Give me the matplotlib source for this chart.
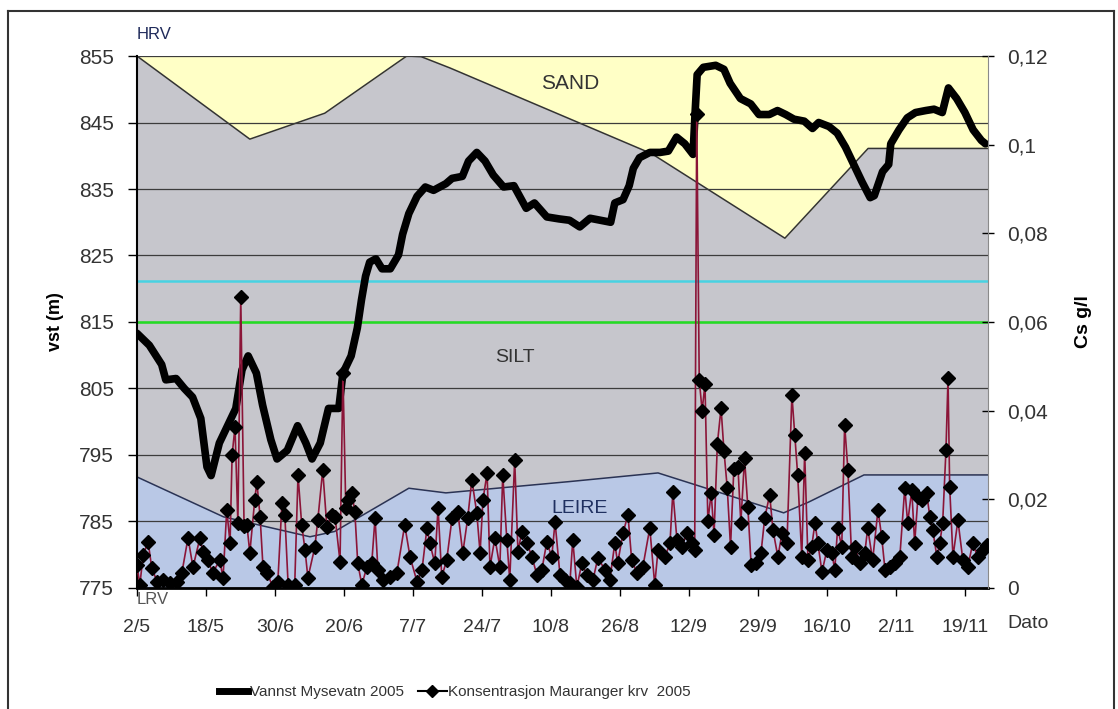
import matplotlib
matplotlib.use("Agg")
import matplotlib.pyplot as plt
from matplotlib.lines import Line2D
from matplotlib import font_manager
import numpy as np

# x axis in days counted from 2/5
tick_labels = ['2/5', '18/5', '30/6', '20/6', '7/7', '24/7', '10/8', '26/8',
               '12/9', '29/9', '16/10', '2/11', '19/11']
tick_step = 16.75
left_ticks = [775, 785, 795, 805, 815, 825, 835, 845, 855]
right_ticks = [0, 0.02, 0.04, 0.06, 0.08, 0.10, 0.12]
right_tick_labels = ['0', '0,02', '0,04', '0,06', '0,08', '0,1', '0,12']

# sediment zone boundaries (m)
leire_day = [0, 21, 42, 48, 66, 75, 105, 126.5, 157, 163, 176.5, 206.6]
leire_top = [791.7, 785.7, 782.7, 783.5, 790, 789.3, 791, 792.3, 786.3, 787.9, 792, 792]
sand_day = [0, 27.4, 45.6, 65.5, 69, 76, 125, 157.3, 177.5, 206.6]
sand_bottom = [855, 842.5, 846.4, 855, 854.9, 853.2, 840.3, 827.6, 841.1, 841.1]
cyan_level = 821.2
green_level = 815

# Vannst Mysevatn 2005 (m)
water_day = [0, 3, 6, 7, 9.5, 11.5, 13.5, 15.5, 17, 18, 20, 22, 24, 25.5, 27, 29, 30.5,
             32.5, 34, 36.5, 39, 41, 42.5, 44.5, 46.5, 49, 50, 52, 53.5, 54.5, 55.5, 56.5,
             58, 59.5, 61.5, 63.5, 64.5, 66, 68, 70, 72, 75, 76.5, 79, 80.5, 82.5, 84.5,
             86.5, 89, 91.5, 94.5, 96.5, 99.5, 102.5, 105, 107.5, 110, 112.5, 115, 116,
             118, 119.5, 120.5, 122, 124.5, 127, 129, 131, 133, 135, 135.5, 136, 137.5,
             140.5, 142.5, 144, 146.5, 149, 151, 153.5, 155.5, 157.5, 159.5, 162, 164,
             165.5, 168, 170, 172, 174, 176, 178, 179, 181, 182.5, 183, 185, 187, 189,
             191.5, 193.5, 195.5, 197, 199, 201, 203, 205, 206]
water_level = [813.3, 811.5, 808.6, 806.3, 806.5, 805, 803.7, 800.5, 793.2, 791.9, 796.8,
               799.4, 802, 807.8, 809.9, 807.3, 802.5, 797.3, 794.4, 795.7, 799.4, 796.8,
               794.4, 796.8, 802, 802, 807.3, 809.9, 814.1, 818.3, 821.9, 824, 824.5, 823,
               823, 825.1, 828.2, 831.3, 833.9, 835.3, 834.8, 835.8, 836.6, 836.9, 839.2,
               840.5, 839.2, 837.1, 835.3, 835.5, 832.1, 832.9, 830.8, 830.5, 830.3, 829.3,
               830.6, 830.3, 830, 832.9, 833.4, 835.5, 838.1, 839.7, 840.5, 840.5, 840.7,
               842.8, 841.8, 840.2, 846.5, 852.2, 853.3, 853.6, 853, 850.9, 848.6, 847.8,
               846.2, 846.2, 846.8, 846.2, 845.5, 845.2, 844.1, 845, 844.4, 843.4, 841.3,
               838.7, 836.1, 833.7, 834, 837.6, 838.7, 841.8, 843.9, 845.7, 846.5, 846.8,
               847, 846.5, 850.2, 848.6, 846.5, 843.9, 842.3, 841.8]

# Konsentrasjon Mauranger krv 2005 (g/l)
conc_day = [0.0, 0.7, 1.5, 2.7, 3.6, 4.9, 6.3, 8.0, 9.7, 10.9, 12.4, 13.6, 15.3, 16.0,
            17.2, 18.4, 20.1, 20.9, 21.8, 22.6, 23.1, 23.8, 24.5, 25.2, 26.0, 26.7, 27.4,
            28.6, 29.1, 29.9, 30.6, 31.6, 33.0, 34.2, 35.2, 35.9, 36.7, 38.3, 39.1, 40.0,
            40.8, 41.5, 43.2, 43.9, 45.1, 46.1, 47.3, 48.1, 49.3, 50.0, 50.7, 51.2, 52.2,
            52.9, 53.6, 54.6, 55.8, 57.0, 57.8, 58.5, 59.7, 61.4, 63.1, 65.0, 66.3, 68.0,
            69.2, 70.4, 71.1, 72.3, 73.1, 74.0, 75.2, 76.5, 77.9, 79.1, 80.3, 81.3, 82.5,
            83.3, 84.0, 85.0, 85.7, 86.9, 88.1, 88.8, 89.8, 90.5, 91.7, 92.5, 93.4, 94.7,
            95.9, 97.1, 98.3, 99.5, 100.7, 101.5, 102.7, 103.9, 105.1, 105.8, 106.8, 108.0,
            109.2, 110.7, 111.9, 113.6, 114.8, 116.0, 116.7, 118.0, 119.2, 120.1, 121.4,
            122.8, 124.5, 125.7, 126.5, 128.2, 129.4, 130.1, 131.1, 132.3, 133.5, 134.7,
            135.4, 135.9, 136.5, 137.2, 137.9, 138.6, 139.4, 140.1, 140.9, 141.8, 142.5,
            143.3, 144.1, 144.9, 145.9, 146.6, 147.5, 148.3, 149.1, 150.3, 151.5, 152.4,
            153.6, 154.4, 155.6, 156.6, 157.8, 159.0, 159.7, 160.4, 161.4, 162.1, 162.9,
            163.8, 164.6, 165.3, 166.3, 167.5, 168.7, 169.4, 170.1, 171.1, 171.8, 172.6,
            173.5, 174.3, 175.5, 176.7, 177.4, 178.6, 179.9, 180.8, 181.6, 182.8, 184.0,
            185.2, 186.4, 187.1, 188.1, 188.8, 189.6, 190.5, 191.7, 192.5, 193.2, 194.2,
            194.9, 195.6, 196.4, 196.9, 197.3, 198.1, 199.3, 200.5, 201.7, 202.9, 204.1,
            205.3, 206.3]
conc_val = [.0052, .0007, .0074, .0104, .0045, .0014, .0018, .0011, .0014, .0034, .0113,
            .0047, .0113, .0081, .0063, .0034, .0063, .0023, .0176, .0101, .030, .0363,
            .0147, .0657, .0140, .0142, .0079, .0199, .0239, .016, .0047, .0034, .0002,
            .0014, .0192, .0165, .0007, .0007, .0255, .0142, .0086, .0023, .0093, .0153,
            .0266, .0138, .0165, .016, .0059, .0485, .018, .0199, .0214, .0171, .0056,
            .0007, .0047, .0056, .0158, .0041, .0018, .0025, .0034, .0142, .007, .0014,
            .0041, .0135, .0101, .0056, .018, .0025, .0063, .0158, .0171, .0079, .0158,
            .0244, .0169, .0079, .0199, .0259, .0047, .0113, .0047, .0255, .0108, .0018,
            .0289, .0081, .0126, .0101, .007, .0029, .0041, .0104, .007, .0149, .0029,
            .0018, .0011, .0108, .0002, .0056, .0029, .0018, .0068, .0041, .0018, .0101,
            .0056, .0124, .0165, .0063, .0034, .0047, .0135, .0007, .0086, .007, .0101,
            .0217, .0108, .0093, .0124, .0101, .0086, .107, .047, .040, .046, .015, .0214,
            .012, .0325, .0406, .031, .0226, .0093, .0268, .0273, .0147, .0293, .0183,
            .0052, .0056, .0079, .0158, .021, .0131, .007, .0124, .0101, .0435, .0345,
            .0255, .007, .0305, .0063, .0093, .0147, .0101, .0036, .0086, .0079, .0041,
            .0135, .0093, .0368, .0266, .007, .0093, .0056, .0079, .0135, .0063, .0176,
            .0115, .0041, .0047, .0056, .007, .0226, .0147, .0221, .0101, .0205, .0199,
            .0214, .016, .0131, .007, .0101, .0147, .0311, .0474, .0228, .007, .0153,
            .0063, .0047, .0101, .007, .0086, .0097]

installed = {f.name for f in font_manager.fontManager.ttflist}
plt.rcParams['font.family'] = ['Liberation Sans', 'DejaVu Sans']
narrow = 'Liberation Sans Narrow' in installed

fig = plt.figure(figsize=(11.18, 7.09), dpi=100)
ax = fig.add_axes([0.1225, 0.1707, 0.7612, 0.7503])

# zones: silt is the background, leire and sand on top
ax.set_facecolor('#c6c6cc')
ax.fill_between(leire_day, 775, leire_top, color='#b9c8e6', lw=0, zorder=1)
ax.fill_between(sand_day, sand_bottom, 855, color='#ffffc6', lw=0, zorder=1)
ax.plot(leire_day, leire_top, color='#2a3355', lw=1.1, zorder=1.2)
ax.plot(sand_day, sand_bottom, color='#333333', lw=1.1, zorder=1.2)

ax.axhline(cyan_level, color='#48d2e2', lw=1.8, zorder=1.8)
ax.axhline(green_level, color='#22dd22', lw=1.8, zorder=1.8)

ax.plot(water_day, water_level, color='black', lw=5.5, solid_joinstyle='round',
        solid_capstyle='round', zorder=3)

ax.set_xlim(0, 206.6)
ax.set_ylim(775, 855)
ax.set_yticks(left_ticks)
ax.yaxis.grid(True, color='#3c3c3c', lw=0.9)
ax.set_xticks(np.arange(len(tick_labels)) * tick_step)
ax.set_xticklabels(tick_labels)
ax.tick_params(axis='x', direction='out', length=6, width=1, pad=16,
               labelsize=14, labelcolor='#333333')
ax.tick_params(axis='y', direction='out', length=6.5, width=1, pad=10,
               labelsize=15, labelcolor='#333333')
for side in ['top', 'right']:
    ax.spines[side].set_visible(False)
ax.spines['left'].set_linewidth(1.5)
ax.spines['bottom'].set_linewidth(2)
ax.set_ylabel('vst (m)', fontsize=13, fontweight='bold')
ax.yaxis.set_label_coords(-0.086, 0.5)

ax.text(105.1, 850.9, 'SAND', fontsize=15, color='#333333', ha='center', va='center')
ax.text(91.7, 809.7, 'SILT', fontsize=14, color='#333333', ha='center', va='center')
ax.text(107.5, 787.0, 'LEIRE', fontsize=14, color='#1f3060', ha='center', va='center')
ax.text(0, 1.041, 'HRV', transform=ax.transAxes, fontsize=12, color='#1f2a5a',
        ha='left', va='center')
ax.text(0, -0.0226, 'LRV', transform=ax.transAxes, fontsize=12, color='#555555',
        ha='left', va='center')
ax.text(1.0223, -0.0677, 'Dato', transform=ax.transAxes, fontsize=14, color='#333333',
        ha='left', va='center')

ax2 = ax.twinx()
ax2.plot(conc_day, conc_val, color='#8b1538', lw=1.2, marker='D', ms=7,
         mfc='black', mec='black', zorder=4)
ax2.set_ylim(0, 0.12)
ax2.set_yticks(right_ticks)
ax2.set_yticklabels(right_tick_labels)
ax2.tick_params(axis='y', direction='inout', length=9, width=1, pad=9,
                labelsize=15, labelcolor='#333333')
for side in ['top', 'left', 'bottom']:
    ax2.spines[side].set_visible(False)
ax2.spines['right'].set_color('#8a8a8a')
ax2.set_ylabel('Cs g/l', fontsize=14, fontweight='bold')
ax2.yaxis.set_label_coords(1.102, 0.5)

# legend
h1 = Line2D([], [], color='black', lw=5)
h2 = Line2D([], [], color='black', lw=1.5, marker='D', ms=6, mfc='black')
if narrow:
    prop = {'family': ['Liberation Sans Narrow', 'Liberation Sans'], 'size': 13}
else:
    prop = {'size': 11}
leg = fig.legend([h1, h2], ['Vannst Mysevatn 2005', 'Konsentrasjon Mauranger krv  2005'],
                 loc='center', bbox_to_anchor=(0.407, 0.024), ncol=2, frameon=False,
                 prop=prop, handlelength=1.9, handletextpad=0.1, columnspacing=0.9)
for t in leg.get_texts():
    t.set_color('#333333')

# outer frame
for xs, ys in [([8, 1114], [11, 11]), ([8, 8], [11, 709]), ([1114, 1114], [11, 709])]:
    fig.add_artist(Line2D([x / 1118 for x in xs], [1 - y / 709 for y in ys],
                          color='#333333', lw=1.5, transform=fig.transFigure))

fig.savefig('out.png', dpi=100)
